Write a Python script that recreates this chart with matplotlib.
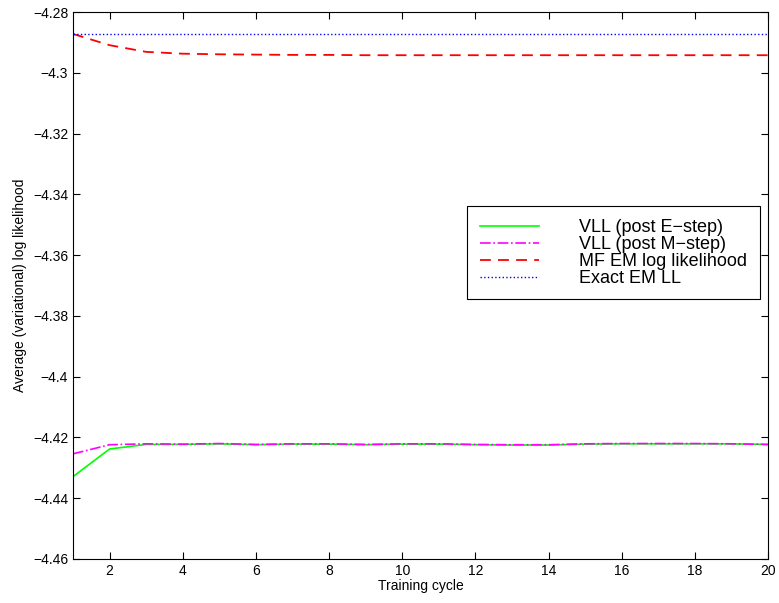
import numpy as np
import matplotlib.pyplot as plt

plt.rcParams['font.family'] = ['Liberation Sans', 'DejaVu Sans']

cycles = np.arange(1, 21)
vll_e = [-4.4329, -4.4238, -4.4223, -4.4223, -4.4221, -4.4224, -4.4222, -4.4222, -4.4224, -4.4222,
         -4.4222, -4.4224, -4.4225, -4.4225, -4.4222, -4.4221, -4.4221, -4.4221, -4.4221, -4.4223]
vll_m = [-4.4254, -4.4224, -4.4221, -4.4222, -4.4220, -4.4223, -4.4221, -4.4221, -4.4223, -4.4221,
         -4.4221, -4.4223, -4.4224, -4.4224, -4.4221, -4.4220, -4.4220, -4.4220, -4.4221, -4.4223]
mf_em = [-4.2872, -4.2909, -4.2931, -4.2937, -4.2939, -4.2940, -4.2941, -4.2941, -4.2942, -4.2942,
         -4.2942, -4.2942, -4.2942, -4.2942, -4.2942, -4.2942, -4.2942, -4.2942, -4.2942, -4.2942]
exact_em = [-4.2872] * 20

fig = plt.figure(figsize=(7.79, 6.03), dpi=100)
ax = fig.add_axes([0.0937, 0.073, 0.8922, 0.907])

ax.plot(cycles, vll_e, '-', color='#00ff00', lw=1.2, label='VLL (post E\u2212step)')
ax.plot(cycles, vll_m, '-.', color='#ff00ff', lw=1.2, label='VLL (post M\u2212step)')
ax.plot(cycles, mf_em, '--', color='#ff0000', lw=1.3, dashes=(6, 4), label='MF EM log likelihood')
ax.plot(cycles, exact_em, ':', color='#0000ff', lw=1.0, label='Exact EM LL')

ax.set_xlim(1, 20)
ax.set_ylim(-4.46, -4.28)
ax.set_xticks(np.arange(2, 21, 2))
ax.set_yticks(np.arange(-4.46, -4.279, 0.02))
ax.set_yticklabels(['\u22124.46', '\u22124.44', '\u22124.42', '\u22124.4', '\u22124.38', '\u22124.36',
                    '\u22124.34', '\u22124.32', '\u22124.3', '\u22124.28'])
ax.tick_params(direction='in', top=True, right=True, labelsize=10, length=5)
ax.set_xlabel('Training cycle', fontsize=10, labelpad=1)
ax.set_ylabel('Average (variational) log likelihood', fontsize=10, labelpad=4)

leg = ax.legend(loc='upper left', bbox_to_anchor=(0.567, 0.645), fontsize=13,
                handlelength=3.3, handletextpad=2.2, labelspacing=0.0,
                fancybox=False, framealpha=1, edgecolor='black',
                borderpad=0.7, borderaxespad=0)
leg.get_frame().set_linewidth(0.8)

fig.savefig('out.png', dpi=100)
